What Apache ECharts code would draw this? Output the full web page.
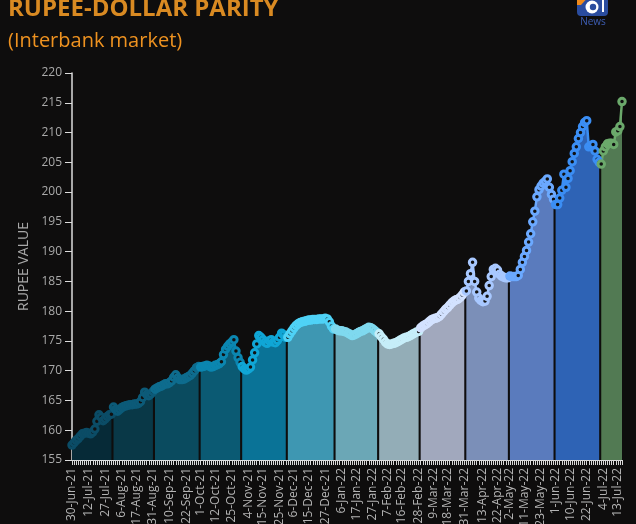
<!DOCTYPE html>
<html>
<head>
<meta charset="utf-8">
<script src="https://cdn.jsdelivr.net/npm/echarts@6/dist/echarts.min.js"></script>
<style>
html,body{margin:0;padding:0;background:#0e0d0d;}
#chart{width:636px;height:524px;}
</style>
</head>
<body>
<div id="chart"></div>
<script>
// ---- categories (trading days), one list per monthly segment ----
const datesJul21 = ['30-Jun-21'].concat([1,2,5,6,7,8,9,12,13,14,15,16,19,23,26,27,28,29,30].map(d => d + '-Jul-21'));
const datesAug21 = [2,3,4,5,6,9,10,11,12,13,16,17,20,23,24,25,26,27,30,31].map(d => d + '-Aug-21');
const datesSep21 = [1,2,3,6,7,8,9,10,13,14,15,16,17,20,21,22,23,24,27,28,29,30].map(d => d + '-Sep-21');
const datesOct21 = [1,4,5,6,7,8,11,12,13,14,15,18,20,21,22,25,26,27,28,29].map(d => d + '-Oct-21');
const datesNov21 = [1,2,3,4,5,8,9,10,11,12,15,16,17,18,19,22,23,24,25,26,29,30].map(d => d + '-Nov-21');
const datesDec21 = [1,2,3,6,7,8,9,10,13,14,15,16,17,20,21,22,23,24,27,28,29,30,31].map(d => d + '-Dec-21');
const datesJan22 = [3,4,5,6,7,10,11,12,13,14,17,18,19,20,21,24,25,26,27,28,31].map(d => d + '-Jan-22');
const datesFeb22 = [1,2,3,4,7,8,9,10,11,14,15,16,17,18,21,22,23,24,25,28].map(d => d + '-Feb-22');
const datesMar22 = [1,2,3,4,7,8,9,10,11,14,15,16,17,18,21,22,24,25,28,29,30,31].map(d => d + '-Mar-22');
const datesApr22 = [1,4,5,6,7,8,11,12,13,14,15,18,19,20,21,22,25,26,27,28,29].map(d => d + '-Apr-22');
const datesMay22 = [2,3,4,5,6,9,10,11,12,13,16,17,18,19,20,23,24,25,26,27,30,31].map(d => d + '-May-22');
const datesJun22 = [1,2,3,6,7,8,9,10,13,14,15,16,17,20,21,22,23,24,27,28,29,30].map(d => d + '-Jun-22');
const datesJul22 = [1,4,5,6,7,8,11,12,13,14,15].map(d => d + '-Jul-22');

// ---- values (PKR per USD) ----
const valJul21 = [157.5,157.9,158.3,158.6,159.0,159.4,159.5,159.6,159.5,159.4,159.7,160.2,161.5,162.6,162.2,161.6,161.9,162.3,162.6,162.7];
const valAug21 = [163.9,163.5,163.2,163.5,163.8,164.0,164.1,164.2,164.3,164.3,164.4,164.4,164.5,164.8,165.5,166.4,166.0,165.8,166.1,166.5];
const valSep21 = [166.9,167.1,167.3,167.4,167.6,167.8,167.8,168.0,168.3,168.9,169.3,168.8,168.5,168.5,168.6,168.8,169.0,169.2,169.6,170.0,170.5,170.7];
const valOct21 = [170.6,170.7,170.8,170.9,170.8,170.6,170.7,170.9,171.0,171.2,171.5,172.7,173.6,174.1,174.5,174.8,175.2,173.3,172.2,171.4];
const valNov21 = [170.7,170.3,170.1,170.3,170.6,171.8,173.0,174.5,175.9,175.6,175.2,174.8,174.6,175.0,175.2,174.8,174.7,175.1,175.6,176.3,176.0,175.6];
const valDec21 = [175.6,176.2,176.7,177.2,177.6,177.9,178.1,178.2,178.3,178.4,178.5,178.5,178.6,178.6,178.6,178.7,178.7,178.7,178.8,178.7,178.2,177.5,177.0];
const valJan22 = [177.0,176.8,176.7,176.7,176.6,176.5,176.3,176.1,175.9,176.0,176.2,176.4,176.6,176.7,176.9,177.1,177.3,177.2,177.0,176.7,176.4];
const valFeb22 = [176.2,175.7,175.3,174.8,174.5,174.4,174.5,174.6,174.7,174.9,175.1,175.3,175.5,175.6,175.7,175.9,176.1,176.3,176.5,176.6];
const valMar22 = [177.2,177.5,177.7,177.9,178.2,178.5,178.7,178.8,178.9,179.1,179.5,179.9,180.3,180.6,181.0,181.4,181.7,181.9,182.0,182.3,182.7,183.2];
const valApr22 = [183.4,185.0,186.3,188.2,185.0,183.2,182.2,181.8,181.6,181.7,182.5,184.3,185.8,187.0,187.2,186.9,186.2,185.9,185.7,185.6,185.6];
const valMay22 = [185.9,185.8,185.8,185.8,186.0,187.0,188.2,189.2,190.2,191.6,193.0,195.0,196.8,199.2,200.4,201.0,201.5,201.8,202.2,200.8,199.6,198.8];
const valJun22 = [197.9,197.9,199.0,200.3,203.0,200.8,202.3,203.6,205.1,206.5,207.6,209.0,210.0,211.0,211.7,212.0,207.6,207.8,208.0,206.9,205.5,205.0];
const valJul22 = [204.7,206.9,207.6,208.1,208.2,208.2,208.0,210.1,210.3,211.0,215.2];

// ---- tick labels shown on the x axis ----
const tickLabels = ['30-Jun-21','12-Jul-21','27-Jul-21','6-Aug-21','17-Aug-21','31-Aug-21','10-Sep-21','22-Sep-21',
  '1-Oct-21','12-Oct-21','25-Oct-21','4-Nov-21','15-Nov-21','25-Nov-21','6-Dec-21','15-Dec-21','27-Dec-21',
  '6-Jan-22','17-Jan-22','27-Jan-22','7-Feb-22','16-Feb-22','28-Feb-22','9-Mar-22','18-Mar-22','31-Mar-22',
  '13-Apr-22','22-Apr-22','2-May-22','11-May-22','23-May-22','1-Jun-22','10-Jun-22','22-Jun-22','4-Jul-22','13-Jul-22'];

const segDates = [datesJul21,datesAug21,datesSep21,datesOct21,datesNov21,datesDec21,datesJan22,datesFeb22,datesMar22,datesApr22,datesMay22,datesJun22,datesJul22];
const segValues = [valJul21,valAug21,valSep21,valOct21,valNov21,valDec21,valJan22,valFeb22,valMar22,valApr22,valMay22,valJun22,valJul22];
const fillColors = ['#062a37','#093847','#0a4b5f','#0b5a73','#0a7397','#3e97b2','#6ba7b6','#93adb7','#a1a8bd','#7b8fb8','#5a7bbd','#2e63b5','#527a53'];
const lineColors = ['#0b4c66','#0c5a78','#0e6c8e','#0b86b0','#10a6d6','#4fd2f6','#7fd9ef','#c6eef9','#d3e2ff','#a8c8ff','#6ba9ff','#3b8ef4','#6ba96b'];

const categories = [].concat(...segDates);
const labelSet = new Set(tickLabels);

const series = [];
let offset = 0;
segValues.forEach((vals, k) => {
  const data = new Array(categories.length).fill(null);
  vals.forEach((v, i) => { data[offset + i] = v; });
  offset += segDates[k].length;
  series.push({
    type: 'line',
    data: data,
    connectNulls: false,
    symbol: 'circle',
    symbolSize: 6.5,
    showAllSymbol: true,
    itemStyle: { color: '#111', borderColor: lineColors[k], borderWidth: 3 },
    lineStyle: { color: lineColors[k], width: 2.5 },
    areaStyle: { color: fillColors[k], opacity: 1 },
    z: 2,
    silent: true
  });
});

const chart = echarts.init(document.getElementById('chart'));
chart.setOption({
  backgroundColor: '#0e0d0d',
  animation: false,
  grid: { left: 72, right: 14, top: 73, bottom: 64, containLabel: false, outerBoundsMode: 'none' },
  xAxis: {
    type: 'category',
    data: categories,
    boundaryGap: false,
    axisLine: { lineStyle: { color: '#dddddd', width: 1 } },
    axisTick: { show: true, interval: 0, length: 5, lineStyle: { color: '#d8d8d8' } },
    axisLabel: {
      interval: (i, v) => labelSet.has(v),
      hideOverlap: false,
      rotate: 90, color: '#b4b4b4', fontSize: 12, margin: 8, fontFamily: 'Open Sans'
    },
    splitLine: { show: false }
  },
  yAxis: {
    type: 'value', min: 155, max: 220, interval: 5,
    name: 'RUPEE VALUE', nameLocation: 'middle', nameGap: 41, nameRotate: 90,
    nameTextStyle: { color: '#a8a8a8', fontSize: 14, fontFamily: 'Open Sans' },
    axisLine: { show: true, lineStyle: { color: '#dddddd', width: 1.5 } },
    axisTick: { show: true, length: 7, lineStyle: { color: '#dddddd' } },
    axisLabel: { color: '#aaaaaa', fontSize: 12, margin: 10, fontFamily: 'Open Sans' },
    splitLine: { show: false }
  },
  series: series,
  graphic: [
    { type: 'text', left: 8, top: -3, style: { text: 'RUPEE-DOLLAR PARITY', fill: '#d98a22', font: 'bold 24px "Open Sans"' } },
    { type: 'text', left: 8, top: 31, style: { text: '(Interbank market)', fill: '#ee9220', font: '20px "Open Sans"' } },
    { type: 'rect', shape: { x: 577, y: -6, width: 31, height: 22, r: 4 }, style: { fill: '#2a4c9e' } },
    { type: 'polygon', shape: { points: [[577,-6],[591,-6],[581,5],[577,5]] }, style: { fill: '#f08a1a' } },
    { type: 'circle', shape: { cx: 592, cy: 7, r: 6.5 }, style: { fill: '#ffffff' } },
    { type: 'circle', shape: { cx: 593, cy: 7, r: 3.2 }, style: { fill: '#2a4c9e' } },
    { type: 'rect', shape: { x: 602, y: -6, width: 2, height: 18 }, style: { fill: '#ffffff' } },
    { type: 'text', x: 593, y: 17, style: { text: 'News', fill: '#3d5db3', font: '10px "Open Sans"', textAlign: 'center' } }
  ]
});
</script>
</body>
</html>
